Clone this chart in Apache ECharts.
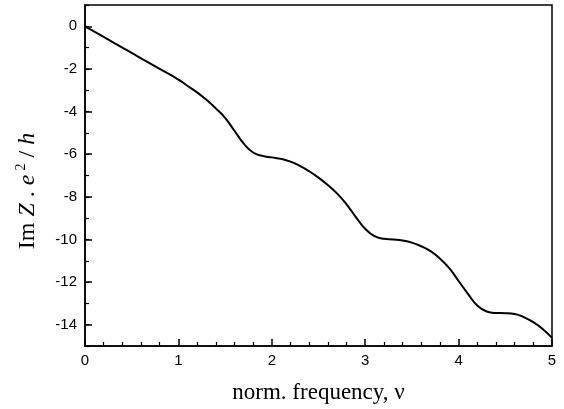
<!DOCTYPE html>
<html>
<head>
<meta charset="utf-8">
<script src="https://cdn.jsdelivr.net/npm/echarts@6/dist/echarts.min.js"></script>
<style>html,body{margin:0;padding:0;background:#fff}#c{width:564px;height:409px}</style>
</head>
<body>
<div id="c"></div>
<script>
var freq = [0,0.2,0.4,0.6,0.8,1.0,1.1,1.2,1.3,1.4,1.5,1.6,1.7,1.8,1.9,2.0,2.1,2.2,2.3,2.4,2.5,2.6,2.7,2.8,2.9,3.0,3.1,3.2,3.3,3.4,3.5,3.6,3.7,3.8,3.9,4.0,4.1,4.2,4.3,4.4,4.5,4.6,4.7,4.8,4.9,5.0];
var imZ = [0,-0.5,-1.0,-1.5,-2.0,-2.5,-2.8,-3.1,-3.45,-3.85,-4.3,-4.9,-5.5,-5.92,-6.08,-6.15,-6.22,-6.35,-6.55,-6.8,-7.1,-7.45,-7.85,-8.35,-8.95,-9.5,-9.85,-9.97,-10.0,-10.05,-10.15,-10.32,-10.55,-10.9,-11.35,-11.95,-12.55,-13.1,-13.38,-13.45,-13.46,-13.5,-13.65,-13.88,-14.2,-14.62];
var yLabelValues = [0,-2,-4,-6,-8,-10,-12,-14];
var xLabelValues = [0,1,2,3,4,5];

var data = freq.map(function(f,i){return [f, imZ[i]];});
var chart = echarts.init(document.getElementById('c'), null, {renderer:'canvas'});
var sans = 'Liberation Sans, Arial, sans-serif';
var serif = 'Liberation Serif, Times New Roman, serif';
chart.setOption({
  animation:false,
  backgroundColor:'#fff',
  grid:{left:85,right:12,top:5,bottom:63,show:true,borderColor:'#000',borderWidth:1.5,backgroundColor:'transparent'},
  xAxis:{
    type:'value',min:0,max:5,interval:1,
    name:'norm. frequency, \u03bd',nameLocation:'middle',nameGap:35,
    nameTextStyle:{fontFamily:serif,fontSize:23,color:'#000'},
    axisLine:{show:true,onZero:false,lineStyle:{color:'#000',width:1.5}},
    axisTick:{show:true,inside:true,length:7,lineStyle:{color:'#000',width:1.5}},
    minorTick:{show:true,splitNumber:5,length:4,lineStyle:{color:'#000',width:1.2}},
    axisLabel:{color:'#000',fontFamily:sans,fontSize:15,margin:7},
    splitLine:{show:false}
  },
  yAxis:[{
    type:'value',min:-15,max:1,
    axisLine:{show:true,onZero:false,lineStyle:{color:'#000',width:1.5}},
    axisTick:{show:true,inside:true,length:7,customValues:yLabelValues,lineStyle:{color:'#000',width:1.5}},
    axisLabel:{color:'#000',fontFamily:sans,fontSize:15,margin:8,customValues:yLabelValues},
    splitLine:{show:false}
  },{
    type:'value',min:-15,max:1,interval:1,position:'left',
    axisLine:{show:false,onZero:false},
    axisTick:{show:true,inside:true,length:4,lineStyle:{color:'#000',width:1.2}},
    axisLabel:{show:false},
    splitLine:{show:false}
  }],
  graphic:[{
    type:'text',x:28,y:191,rotation:Math.PI/2,
    style:{
      text:'Im {i|Z} . {i|e}{s|2} / {i|h}',
      fontFamily:serif,fontSize:24,fill:'#000',align:'center',verticalAlign:'middle',
      rich:{
        i:{fontFamily:serif,fontSize:24,fontStyle:'italic',fill:'#000'},
        s:{fontFamily:serif,fontSize:14,fill:'#000',padding:[0,0,14,4]}
      }
    }
  }],
  series:[{
    type:'line',data:data,smooth:true,showSymbol:false,
    lineStyle:{color:'#000',width:2}
  }]
});
</script>
</body>
</html>
